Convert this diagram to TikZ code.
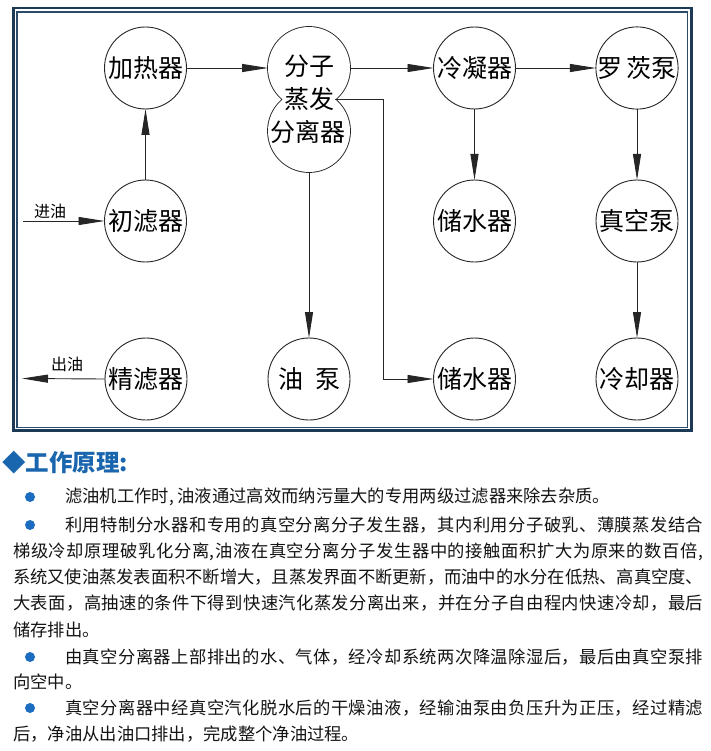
\documentclass[tikz,border=0pt]{standalone}
\usepackage{fontspec}
\setmainfont{Noto Sans CJK SC}
\usetikzlibrary{arrows.meta}
\definecolor{framec}{HTML}{1C3A55}
\definecolor{framei}{HTML}{2B4B6B}
\definecolor{headc}{HTML}{1A66AE}
\definecolor{dotc}{HTML}{1C6CC0}
\def\jl#1#2{#1\ifx\relax#2\else\hskip 0pt plus 1fil minus 1pt\expandafter\jl\expandafter#2\fi}
\newcommand\jline[2]{\makebox[#1][s]{\jl#2\relax}}
\begin{document}
\begin{tikzpicture}[x=1pt,y=-1pt,
  unit/.style={circle, draw=black!85, line width=0.9pt, minimum size=82pt, inner sep=0pt, outer sep=0pt, font=\fontsize{25}{25}\selectfont},
  sepc/.style={circle, minimum size=82pt, inner sep=0pt, outer sep=0pt},
  septext/.style={inner sep=0pt, font=\fontsize{25}{25}\selectfont},
  arr/.style={draw=black!85, line width=0.9pt, -{Triangle[length=26pt,width=8pt]}},
  lbl/.style={inner sep=0pt, font=\fontsize{16}{16}\selectfont},
  body/.style={anchor=west, inner sep=0pt, text=black!92, font=\fontsize{17.3}{17.3}\selectfont},
  bul/.style={circle, fill=dotc, minimum size=10pt, inner sep=0pt}]
\useasboundingbox (0,0) rectangle (710,751);
\fill[white] (0,0) rectangle (710,751);
\draw[framec, line width=2.5pt] (13.3,7.8) rectangle (691.3,430.7);
\draw[framei, line width=1.5pt] (17,11.8) rectangle (687.5,427.7);

% units
\node[unit] (heat) at (145.5,68) {加热器};
\node[unit] (pre)  at (145.5,221) {初滤器};
\node[unit] (fine) at (146,379) {精滤器};
\node[unit] (pump) at (309,379) {油\hspace{12pt}泵};
\node[unit] (cond) at (474.5,68) {冷凝器};
\node[unit] (stwa) at (474.5,221) {储水器};
\node[unit] (stwb) at (474.5,379) {储水器};
\node[unit] (roots) at (637,68) {罗\hspace{4pt}茨泵};
\node[unit] (vac)  at (637,221) {真空泵};
\node[unit] (cool) at (637,379) {冷却器};

% separator (two merged circles)
\node[sepc] (sepT) at (309,68) {};
\node[sepc] (sepB) at (309,131) {};
\draw[black!85, line width=1.8pt] (sepT.center) circle[radius=41pt] (sepB.center) circle[radius=41pt];
\fill[white] (sepT.center) circle[radius=41pt] (sepB.center) circle[radius=41pt];
\node[septext] (s1) at (309,66) {分子};
\node[septext] (s2) at (309,99) {蒸发};
\node[septext] (s3) at (308,132) {分离器};

% free ends
\coordinate (inp) at (23,221);
\coordinate (outp) at (22,378.5);
\node[lbl] (inl) at (50,211) {进油};
\node[lbl] (outl) at (67,364) {出油};

% connectors
\draw[arr] (inp) -- (pre.west);
\draw[arr] (pre.north) -- (heat.south);
\draw[arr] (heat.east) -- (sepT.west);
\draw[arr] (sepT.east) -- (cond.west);
\draw[arr] (cond.east) -- (roots.west);
\draw[arr] (cond.south) -- (stwa.north);
\draw[arr] (roots.south) -- (vac.north);
\draw[arr] (vac.south) -- (cool.north);
\draw[arr] (sepB.south) -- (pump.north);
\draw[arr] (sepT.-50.2) -- ++(48,0) |- (stwb.west);
\draw[arr] (fine.west) -- (outp);

% text section
\node[anchor=west, inner sep=0pt, text=headc, font=\fontsize{23.5}{23.5}\selectfont\bfseries] (head) at (2,463) {◆工作原理:};
\node[bul] (b1) at (30,497) {};
\node[bul] (b2) at (30,525) {};
\node[bul] (b3) at (30,657) {};
\node[bul] (b4) at (30,708) {};
\node[body] (l1) at (65,497) {滤油机工作时, 油液通过高效而纳污量大的专用两级过滤器来除去杂质。};
\node[body] (l2) at (65,525) {\jline{638pt}{利用特制分水器和专用的真空分离分子发生器，其内利用分子破乳、薄膜蒸发结合}};
\node[body] (l3) at (13,552) {\jline{690pt}{梯级冷却原理破乳化分离,油液在真空分离分子发生器中的接触面积扩大为原来的数百倍,}};
\node[body] (l4) at (13,577.5) {\jline{690pt}{系统又使油蒸发表面积不断增大，且蒸发界面不断更新，而油中的水分在低热、高真空度、}};
\node[body] (l5) at (13,603) {\jline{690pt}{大表面，高抽速的条件下得到快速汽化蒸发分离出来，并在分子自由程内快速冷却，最后}};
\node[body] (l6) at (13,630) {储存排出。};
\node[body] (l7) at (65,657) {\jline{638pt}{由真空分离器上部排出的水、气体，经冷却系统两次降温除湿后，最后由真空泵排}};
\node[body] (l8) at (13,682) {向空中。};
\node[body] (l9) at (65,708) {\jline{638pt}{真空分离器中经真空汽化脱水后的干燥油液，经输油泵由负压升为正压，经过精滤}};
\node[body] (l10) at (13,734) {后，净油从出油口排出，完成整个净油过程。};
\end{tikzpicture}
\end{document}
